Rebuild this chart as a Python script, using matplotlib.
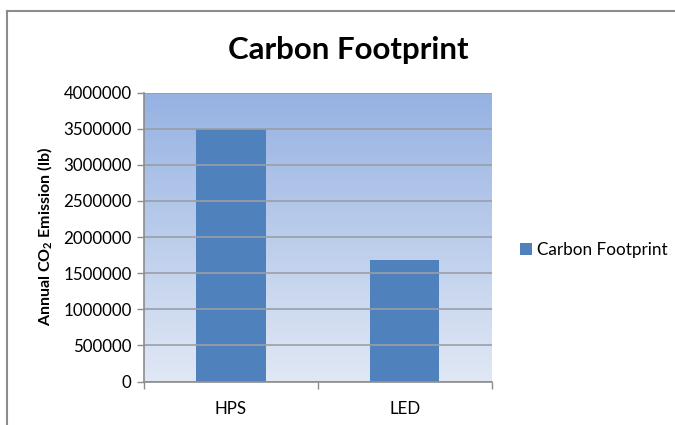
import numpy as np
import matplotlib
matplotlib.use("Agg")
import matplotlib.pyplot as plt
from matplotlib.colors import LinearSegmentedColormap
from matplotlib.patches import Patch
from matplotlib.lines import Line2D

plt.rcParams['font.family'] = ['Lato', 'DejaVu Sans']
plt.rcParams['mathtext.fontset'] = 'custom'
plt.rcParams['mathtext.rm'] = 'Lato'
plt.rcParams['mathtext.bf'] = 'Lato:bold'

categories = ["HPS", "LED"]
emissions = [3500000, 1680000]
series_name = "Carbon Footprint"
y_ticks = [0, 500000, 1000000, 1500000, 2000000, 2500000, 3000000, 3500000, 4000000]

fig = plt.figure(figsize=(6.75, 4.25), dpi=100)
fig.patch.set_facecolor("white")

# chart frame (top and left edges visible)
fig.add_artist(Line2D([7/675, 7/675], [0, 1 - 11/425], transform=fig.transFigure,
                      color="#8c8c8c", lw=1.5))
fig.add_artist(Line2D([7/675, 1], [1 - 11/425, 1 - 11/425], transform=fig.transFigure,
                      color="#8c8c8c", lw=1.5))

ax = fig.add_axes([144/675, 1 - 381.5/425, (491.5 - 144)/675, (381.5 - 92.5)/425])

x = np.arange(len(categories))
ax.set_xlim(-0.5, len(categories) - 0.5)
ax.set_ylim(0, 4000000)

# vertical gradient background
cmap = LinearSegmentedColormap.from_list("bg", ["#e1e8f5", "#96b2e2"])
grad = np.linspace(0, 1, 256).reshape(-1, 1)
ax.imshow(grad, cmap=cmap, aspect="auto", origin="lower",
          extent=[-0.5, len(categories) - 0.5, 0, 4000000], zorder=0)

ax.set_yticks(y_ticks)
ax.set_yticklabels([str(v) for v in y_ticks])
ax.yaxis.grid(True, color="#9a9ea6", lw=1.2, zorder=1)
ax.set_axisbelow(False)

ax.bar(x, emissions, width=0.4, color="#4f81bd", zorder=2, label=series_name)

ax.set_xticks(x)
ax.set_xticklabels(categories)
ax.set_xticks([-0.5, 0.5, 1.5], minor=True)
ax.tick_params(axis="x", which="major", length=0, pad=14, labelsize=12.2, colors="#000000")
ax.tick_params(axis="x", which="minor", length=5, direction="out", color="#8c8c8c", width=1)
ax.tick_params(axis="y", length=5, direction="out", color="#8c8c8c", width=1,
               labelsize=12.2, pad=4)

for side in ("top", "right"):
    ax.spines[side].set_visible(False)
for side in ("left", "bottom"):
    ax.spines[side].set_color("#8c8c8c")
    ax.spines[side].set_linewidth(1.2)
    ax.spines[side].set_zorder(3)

ax.set_ylabel(r"Annual CO$_\mathbf{2}$ Emission (lb)", fontsize=11.5, fontweight="bold")
ax.yaxis.set_label_coords(-0.283, 0.5)
ax.yaxis.label.set_va("center")

fig.text(348/675, 1 - 50/425, "Carbon Footprint",
         ha="center", va="center", fontsize=22.5, fontweight="bold")

fig.legend(handles=[Patch(facecolor="#4f81bd", label=series_name)],
           loc="center left", bbox_to_anchor=(513/675, 1 - 250/425), frameon=False,
           fontsize=12.3, handlelength=0.7, handleheight=0.7, handletextpad=0.3,
           borderaxespad=0)

fig.savefig("out.png", dpi=100)
